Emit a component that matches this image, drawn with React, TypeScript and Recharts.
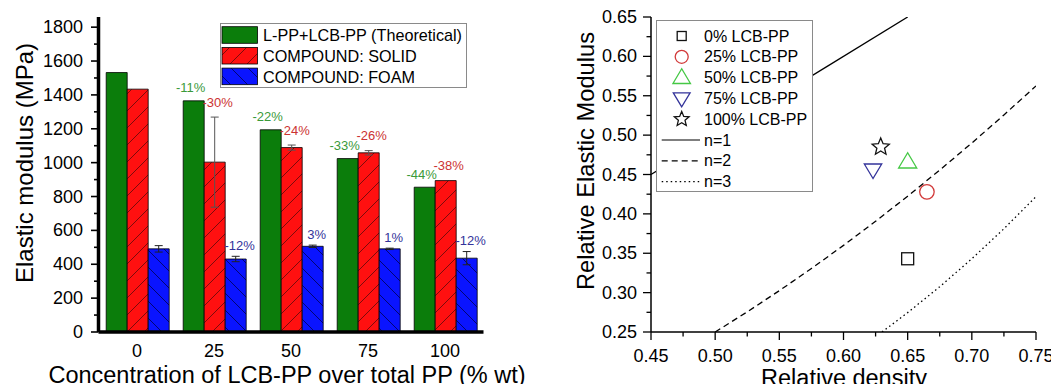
import React from 'react';
import { ComposedChart, Bar, XAxis, YAxis, ErrorBar, LabelList, Legend, Line, Scatter } from 'recharts';

// ---------- Left chart data ----------
const categories = ['0', '25', '50', '75', '100'];
const theoretical = [1532, 1365, 1194, 1024, 855];
const solid = [1434, 1003, 1089, 1058, 894];
const solidErr = [0, 266, 15, 13, 0];
const foam = [491, 431, 506, 491, 436];
const foamErr = [19, 16, 7, 4, 39];
const theoreticalLabels = ['', '-11%', '-22%', '-33%', '-44%'];
const solidLabels = ['', '-30%', '-24%', '-26%', '-38%'];
const foamLabels = ['', '-12%', '3%', '1%', '-12%'];
const barSeriesNames = ['L-PP+LCB-PP (Theoretical)', 'COMPOUND: SOLID', 'COMPOUND: FOAM'];
const modulusTicks = [0, 100, 200, 300, 400, 500, 600, 700, 800, 900, 1000, 1100, 1200, 1300, 1400, 1500, 1600, 1700, 1800];

// ---------- Right chart data ----------
const scatterNames = ['0% LCB-PP', '25% LCB-PP', '50% LCB-PP', '75% LCB-PP', '100% LCB-PP'];
const scatterX = [0.65, 0.665, 0.65, 0.623, 0.629];
const scatterY = [0.343, 0.428, 0.466, 0.456, 0.485];
const curveNames = ['n=1', 'n=2', 'n=3'];
const n1X = [0.45, 0.65];
const n1Y = [0.45, 0.65];
const n2X = [0.5, 0.525, 0.55, 0.575, 0.6, 0.625, 0.65, 0.675, 0.7, 0.725, 0.75];
const n2Y = [0.25, 0.2756, 0.3025, 0.3306, 0.36, 0.3906, 0.4225, 0.4556, 0.49, 0.5256, 0.5625];
const n3X = [0.63, 0.65, 0.675, 0.7, 0.725, 0.75];
const n3Y = [0.25, 0.2746, 0.3075, 0.343, 0.3811, 0.4219];
const densityTicks = [0.45, 0.475, 0.5, 0.525, 0.55, 0.575, 0.6, 0.625, 0.65, 0.675, 0.7, 0.725, 0.75];
const relModTicks = [0.25, 0.275, 0.3, 0.325, 0.35, 0.375, 0.4, 0.425, 0.45, 0.475, 0.5, 0.525, 0.55, 0.575, 0.6, 0.625, 0.65];

// ---------- Styles ----------
const FONT = '"Liberation Sans", Arial, Helvetica, sans-serif';
const GREEN = '#0b7d0b';
const barFills = [GREEN, 'url(#hatchRed)', 'url(#hatchBlue)'];
const markerKinds = ['square', 'circle', 'triangle', 'downTriangle', 'star'];
const markerColors = ['#111111', '#d23a3a', '#45c845', '#33339a', '#111111'];
const curveDash = [undefined, '6 4', '1.5 3'];

const barData = categories.map((c, i) => ({
  cat: c,
  theo: theoretical[i],
  solid: solid[i],
  solidErr: solidErr[i],
  foam: foam[i],
  foamErr: foamErr[i],
  theoLbl: theoreticalLabels[i],
  solidLbl: solidLabels[i],
  foamLbl: foamLabels[i],
}));

const toPts = (xs: number[], ys: number[]) => xs.map((x, i) => ({ x, y: ys[i] }));
const curves = [toPts(n1X, n1Y), toPts(n2X, n2Y), toPts(n3X, n3Y)];
const scatterPts = scatterX.map((x, i) => [{ x, y: scatterY[i] }]);

// ---------- Helpers ----------
function marker(kind: string, cx: number, cy: number, s: number, color: string, key?: string) {
  const sw = 1.3;
  if (kind === 'square') {
    return <rect key={key} x={cx - s / 2} y={cy - s / 2} width={s} height={s} fill="none" stroke={color} strokeWidth={sw} />;
  }
  if (kind === 'circle') {
    return <circle key={key} cx={cx} cy={cy} r={s / 2} fill="none" stroke={color} strokeWidth={sw} />;
  }
  if (kind === 'triangle') {
    const w = s * 1.25, h = s * 1.05;
    const pts = `${cx},${cy - h * 0.6} ${cx - w / 2},${cy + h * 0.4} ${cx + w / 2},${cy + h * 0.4}`;
    return <polygon key={key} points={pts} fill="none" stroke={color} strokeWidth={sw} />;
  }
  if (kind === 'downTriangle') {
    const w = s * 1.2, h = s * 1.0;
    const pts = `${cx},${cy + h * 0.6} ${cx - w / 2},${cy - h * 0.4} ${cx + w / 2},${cy - h * 0.4}`;
    return <polygon key={key} points={pts} fill="none" stroke={color} strokeWidth={sw} />;
  }
  // star
  const R = s * 0.62, r = R * 0.45;
  const pts: string[] = [];
  for (let k = 0; k < 10; k++) {
    const a = -Math.PI / 2 + (k * Math.PI) / 5;
    const rr = k % 2 === 0 ? R : r;
    pts.push(`${cx + rr * Math.cos(a)},${cy + rr * Math.sin(a)}`);
  }
  return <polygon key={key} points={pts.join(' ')} fill="none" stroke={color} strokeWidth={sw} />;
}

const plotMarkerSize = [12, 14.5, 14.5, 14.5, 14.5];
const legendMarkerSize = [9, 13, 14, 14, 12.5];

const makeLabel = (color: string, dx: number, pad: number, valKey: string, errKey?: string) => (props: any) => {
  const vb = props.viewBox || props;
  const x = vb.x ?? props.x;
  const y = vb.y ?? props.y;
  const width = vb.width ?? props.width;
  const height = vb.height ?? props.height;
  const value = props.value;
  const index = props.index;
  if (!value) return null;
  const row: any = barData[index] || {};
  const val = row[valKey] || 1;
  const err = errKey ? row[errKey] || 0 : 0;
  const errPx = (err * Math.abs(height)) / val;
  return (
    <text x={x + width / 2 + dx} y={y - errPx - pad} textAnchor="middle" dominantBaseline="central"
      fontSize={13} fill={color} style={{ fontFamily: FONT }}>
      {value}
    </text>
  );
};

const ModTick = (props: any) => {
  const { x, y, payload } = props;
  const major = payload.value % 200 === 0;
  return (
    <g>
      <line x1={x} x2={x - (major ? 7.5 : 4.5)} y1={y} y2={y} stroke="#000" strokeWidth={1.6} />
      {major && (
        <text x={x - 15.5} y={y} textAnchor="end" dominantBaseline="central" fontSize={18} fill="#000" style={{ fontFamily: FONT }}>
          {payload.value}
        </text>
      )}
    </g>
  );
};

const CatTick = (props: any) => {
  const { x, y, payload } = props;
  return (
    <text x={x} y={y + 19} textAnchor="middle" dominantBaseline="central" fontSize={18} fill="#000" style={{ fontFamily: FONT }}>
      {payload.value}
    </text>
  );
};

const isMajor5 = (v: number) => Math.round(v * 1000) % 50 === 0;

const DensTick = (props: any) => {
  const { x, y, payload } = props;
  const major = isMajor5(payload.value);
  return (
    <g>
      <line x1={x} x2={x} y1={y} y2={y + (major ? 8 : 4.5)} stroke="#000" strokeWidth={1.3} />
      {major && (
        <text x={x} y={y + 24} textAnchor="middle" dominantBaseline="central" fontSize={18} fill="#000" style={{ fontFamily: FONT }}>
          {payload.value.toFixed(2)}
        </text>
      )}
    </g>
  );
};

const RelTick = (props: any) => {
  const { x, y, payload } = props;
  const major = isMajor5(payload.value);
  return (
    <g>
      <line x1={x} x2={x - (major ? 8 : 4.5)} y1={y} y2={y} stroke="#000" strokeWidth={1.3} />
      {major && (
        <text x={x - 14} y={y} textAnchor="end" dominantBaseline="central" fontSize={18} fill="#000" style={{ fontFamily: FONT }}>
          {payload.value.toFixed(2)}
        </text>
      )}
    </g>
  );
};

const LeftLegend = () => (
  <svg width={247} height={65} style={{ display: 'block', overflow: 'visible' }}>
    <rect x={0.5} y={0.5} width={246} height={64} fill="#fff" stroke="#8a8a8a" strokeWidth={1} />
    {barSeriesNames.map((n, i) => (
      <g key={n}>
        <rect x={2} y={3.7 + i * 20.7} width={35.5} height={16.6} fill={barFills[i]} stroke="#000" strokeWidth={0.8} />
        <text x={43} y={12 + i * 21} dominantBaseline="central" fontSize={16.2} fill="#000" style={{ fontFamily: FONT }}>
          {n}
        </text>
      </g>
    ))}
  </svg>
);

const RightLegend = () => {
  const step = 20.8;
  return (
    <svg width={157} height={172} style={{ display: 'block', overflow: 'visible' }}>
      <rect x={0.5} y={0.5} width={156} height={171} fill="#fff" stroke="#8a8a8a" strokeWidth={1} />
      {scatterNames.map((n, i) => (
        <g key={n}>
          {marker(markerKinds[i], 25.7, 16 + i * step, legendMarkerSize[i], markerColors[i])}
          <text x={48} y={16 + i * step} dominantBaseline="central" fontSize={16} fill="#000" style={{ fontFamily: FONT }}>
            {n}
          </text>
        </g>
      ))}
      {curveNames.map((n, j) => {
        const cy = 16 + (5 + j) * step;
        return (
          <g key={n}>
            <line x1={5.7} x2={44} y1={cy} y2={cy} stroke="#000" strokeWidth={1.2} strokeDasharray={curveDash[j]} />
            <text x={48} y={cy} dominantBaseline="central" fontSize={16} fill="#000" style={{ fontFamily: FONT }}>
              {n}
            </text>
          </g>
        );
      })}
    </svg>
  );
};

export default function App() {
  return (
    <div style={{ position: 'relative', width: 1059, height: 392, margin: -8, background: '#fff', overflow: 'hidden' }}>
      <svg width={0} height={0} style={{ position: 'absolute', left: 0, top: 0 }}>
        <defs>
          <pattern id="hatchRed" patternUnits="userSpaceOnUse" width={17} height={17}>
            <rect width={17} height={17} fill="#ff1010" />
            <path d="M0,17 L17,0 M-4,4 L4,-4 M13,21 L21,13" stroke="#5a0a0a" strokeWidth={0.8} />
          </pattern>
          <pattern id="hatchBlue" patternUnits="userSpaceOnUse" width={17} height={17}>
            <rect width={17} height={17} fill="#0a14ff" />
            <path d="M0,0 L17,17 M-4,13 L4,21 M13,-4 L21,4" stroke="#000050" strokeWidth={0.8} />
          </pattern>
        </defs>
      </svg>

      {/* Left chart */}
      <div style={{ position: 'absolute', left: 0, top: 0 }}>
        <ComposedChart width={500} height={392} data={barData} barCategoryGap="10%" barGap={0}
          margin={{ top: 17, right: 16.5, bottom: 30, left: 38.5 }}>
          <XAxis dataKey="cat" tick={<CatTick />} tickLine={false} tickSize={0} tickMargin={0} height={30}
            axisLine={{ stroke: '#000', strokeWidth: 3.5 }} interval={0} />
          <XAxis xAxisId="top" orientation="top" dataKey="cat" tick={false} tickLine={false} height={0}
            axisLine={{ stroke: '#000', strokeWidth: 3.5 }} />
          <YAxis type="number" domain={[0, 1860]} ticks={modulusTicks} interval={0} width={60}
            tick={<ModTick />} tickLine={false} tickSize={0} tickMargin={0}
            axisLine={{ stroke: '#000', strokeWidth: 3.5 }} />
          <YAxis yAxisId="r" orientation="right" type="number" domain={[0, 1860]} width={0} tick={false} tickLine={false}
            axisLine={{ stroke: '#000', strokeWidth: 3.5 }} />
          <Bar dataKey="theo" name={barSeriesNames[0]} fill={barFills[0]} stroke="#000" strokeWidth={0.8} isAnimationActive={false}>
            <LabelList dataKey="theoLbl" content={makeLabel('#3a9a3a', -3, 13, 'theo')} />
          </Bar>
          <Bar dataKey="solid" name={barSeriesNames[1]} fill={barFills[1]} stroke="#000" strokeWidth={0.8} isAnimationActive={false}>
            <ErrorBar dataKey="solidErr" width={4} stroke="#555" strokeWidth={1} direction="y" />
            <LabelList dataKey="solidLbl" content={makeLabel('#cc3333', 3, 15, 'solid', 'solidErr')} />
          </Bar>
          <Bar dataKey="foam" name={barSeriesNames[2]} fill={barFills[2]} stroke="#000" strokeWidth={0.8} isAnimationActive={false}>
            <ErrorBar dataKey="foamErr" width={4} stroke="#222" strokeWidth={1} direction="y" />
            <LabelList dataKey="foamLbl" content={makeLabel('#33339a', 4, 11, 'foam', 'foamErr')} />
          </Bar>
          <Legend layout="horizontal" verticalAlign="middle" align="center" content={() => <LeftLegend />}
            wrapperStyle={{ position: 'absolute', left: 220, top: 23, width: 247, height: 65 }} />
        </ComposedChart>
      </div>

      {/* Right chart */}
      <div style={{ position: 'absolute', left: 540, top: 0 }}>
        <ComposedChart width={519} height={392} margin={{ top: 17, right: 23, bottom: 30, left: 51 }}>
          <XAxis dataKey="x" type="number" domain={[0.45, 0.75]} ticks={densityTicks} interval={0} allowDataOverflow
            tick={<DensTick />} tickLine={false} tickSize={0} tickMargin={0} height={30}
            axisLine={{ stroke: '#000', strokeWidth: 1.5 }} />
          <XAxis xAxisId="top" orientation="top" dataKey="x" type="number" domain={[0.45, 0.75]} allowDataOverflow
            tick={false} tickLine={false} height={0} axisLine={{ stroke: '#000', strokeWidth: 1.5 }} />
          <YAxis dataKey="y" type="number" domain={[0.25, 0.65]} ticks={relModTicks} interval={0} allowDataOverflow width={60}
            tick={<RelTick />} tickLine={false} tickSize={0} tickMargin={0}
            axisLine={{ stroke: '#000', strokeWidth: 1.5 }} />
          <YAxis yAxisId="r" orientation="right" type="number" domain={[0.25, 0.65]} width={0} tick={false} tickLine={false}
            axisLine={{ stroke: '#000', strokeWidth: 1.5 }} />
          {curves.map((c, j) => (
            <Line key={curveNames[j]} name={curveNames[j]} data={c} dataKey="y" type="linear" stroke="#000" strokeWidth={1.3}
              strokeDasharray={curveDash[j]} dot={false} activeDot={false} isAnimationActive={false} />
          ))}
          {scatterPts.map((pts, i) => (
            <Scatter key={scatterNames[i]} name={scatterNames[i]} data={pts} isAnimationActive={false}
              shape={(p: any) => marker(markerKinds[i], p.cx, p.cy, plotMarkerSize[i], markerColors[i])} />
          ))}
          <Legend layout="horizontal" verticalAlign="middle" align="center" content={() => <RightLegend />}
            wrapperStyle={{ position: 'absolute', left: 116, top: 20, width: 157, height: 172 }} />
        </ComposedChart>
      </div>

      {/* Axis titles */}
      <svg width={1059} height={392} style={{ position: 'absolute', left: 0, top: 0, pointerEvents: 'none' }}>
        <g style={{ fontFamily: FONT }} fill="#000">
          <text transform="translate(24.5,163) rotate(-90)" textAnchor="middle" dominantBaseline="central" fontSize={24}>
            Elastic modulus (MPa)
          </text>
          <text x={287} y={375} textAnchor="middle" dominantBaseline="central" fontSize={23.5}>
            Concentration of LCB-PP over total PP (% wt)
          </text>
          <text transform="translate(586,161) rotate(-90)" textAnchor="middle" dominantBaseline="central" fontSize={23.7}>
            Relative Elastic Modulus
          </text>
          <text x={844} y={377.5} textAnchor="middle" dominantBaseline="central" fontSize={23.5}>
            Relative density
          </text>
        </g>
      </svg>
    </div>
  );
}
